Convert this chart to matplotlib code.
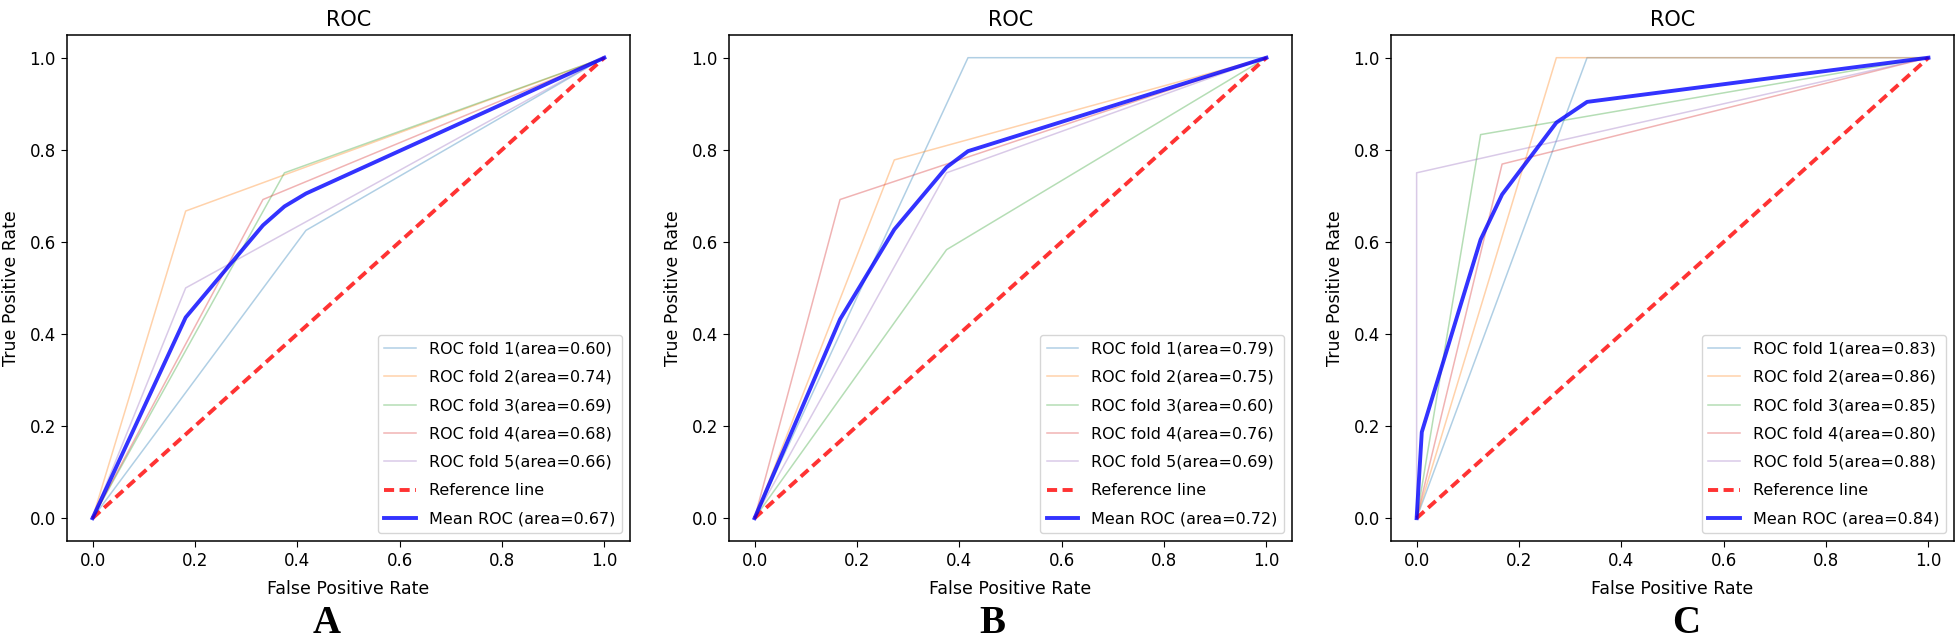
import numpy as np
import matplotlib
matplotlib.use("Agg")
from matplotlib import pyplot as plt

# ROC curves: one fpr/tpr list per fold, per panel
# Panel A
a_fpr = [[0, 0.417, 1], [0, 0.182, 1], [0, 0.375, 1], [0, 0.333, 1], [0, 0.182, 1]]
a_tpr = [[0, 0.625, 1], [0, 0.667, 1], [0, 0.75, 1], [0, 0.692, 1], [0, 0.5, 1]]
a_auc = [0.60, 0.74, 0.69, 0.68, 0.66]
a_mean_fpr = [0, 0.182, 0.333, 0.375, 0.417, 1]
a_mean_tpr = [0, 0.436, 0.636, 0.677, 0.705, 1]
a_mean_auc = 0.67

# Panel B
b_fpr = [[0, 0.417, 1], [0, 0.273, 1], [0, 0.375, 1], [0, 0.167, 1], [0, 0.375, 1]]
b_tpr = [[0, 1, 1], [0, 0.778, 1], [0, 0.583, 1], [0, 0.692, 1], [0, 0.75, 1]]
b_auc = [0.79, 0.75, 0.60, 0.76, 0.69]
b_mean_fpr = [0, 0.167, 0.273, 0.375, 0.417, 1]
b_mean_tpr = [0, 0.432, 0.627, 0.762, 0.797, 1]
b_mean_auc = 0.72

# Panel C
c_fpr = [[0, 0.333, 1], [0, 0.273, 1], [0, 0.125, 1], [0, 0.167, 1], [0, 0, 1]]
c_tpr = [[0, 1, 1], [0, 1, 1], [0, 0.833, 1], [0, 0.769, 1], [0, 0.75, 1]]
c_auc = [0.83, 0.86, 0.85, 0.80, 0.88]
c_mean_fpr = [0, 0.0101, 0.125, 0.167, 0.273, 0.333, 1]
c_mean_tpr = [0, 0.187, 0.605, 0.703, 0.859, 0.904, 1]
c_mean_auc = 0.84

panels = [
    ("A", a_fpr, a_tpr, a_auc, a_mean_fpr, a_mean_tpr, a_mean_auc),
    ("B", b_fpr, b_tpr, b_auc, b_mean_fpr, b_mean_tpr, b_mean_auc),
    ("C", c_fpr, c_tpr, c_auc, c_mean_fpr, c_mean_tpr, c_mean_auc),
]

fig = plt.figure(figsize=(19.57, 6.42), dpi=100)
lefts = [0.0342, 0.3725, 0.7108]
letter_x = [0.167, 0.507, 0.8615]
ticks = np.arange(0, 1.01, 0.2)

for k, (letter, fprs, tprs, aucs, mfpr, mtpr, mauc) in enumerate(panels):
    ax = fig.add_axes([lefts[k], 0.157, 0.2877, 0.789])
    for i in range(len(fprs)):
        ax.plot(fprs[i], tprs[i], lw=1.1, alpha=0.35,
                label="ROC fold %d(area=%.2f)" % (i + 1, aucs[i]))
    ax.plot([0, 1], [0, 1], linestyle="--", dashes=(2.6, 1.4), lw=2.8,
            color="r", alpha=0.8, label="Reference line")
    ax.plot(mfpr, mtpr, color="b", lw=2.8, alpha=0.8,
            label="Mean ROC (area=%.2f)" % mauc)
    ax.set_xlim(-0.05, 1.05)
    ax.set_ylim(-0.05, 1.05)
    ax.set_xticks(ticks)
    ax.set_yticks(ticks)
    ax.tick_params(labelsize=12, length=4.5)
    for s in ax.spines.values():
        s.set_linewidth(1.1)
    ax.set_xlabel("False Positive Rate", fontsize=12.5, labelpad=7)
    ax.set_ylabel("True Positive Rate", fontsize=12.5, labelpad=7)
    ax.set_title("ROC", fontsize=15)
    ax.legend(loc="lower right", fontsize=11.5, labelspacing=0.84)
    fig.text(letter_x[k], 0.0, letter, ha="center", va="bottom",
             fontsize=28, fontweight="bold", family="Liberation Serif")

plt.savefig("out.png", dpi=100)
